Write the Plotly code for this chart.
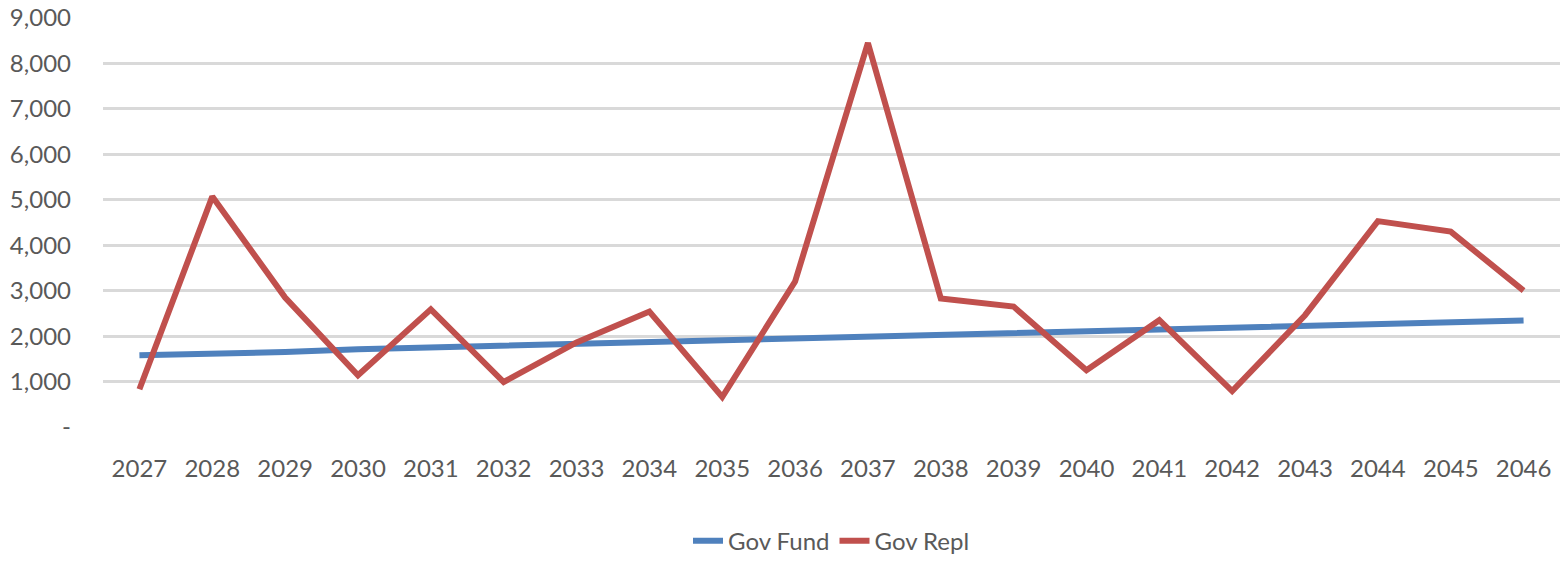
import plotly.graph_objects as go

years = [str(y) for y in range(2027, 2047)]
gov_fund = [1580, 1610, 1650, 1710, 1750, 1790, 1830, 1870, 1900, 1940,
            1980, 2020, 2090, 2130, 2170, 2200, 2240, 2270, 2310, 2345]
gov_repl = [830, 5070, 2850, 1140, 2590, 990, 1860, 2540, 660, 3200,
            8450, 2830, 2650, 1250, 2350, 790, 2460, 4530, 4300, 3000]
y_tickvals = [0, 1000, 2000, 3000, 4000, 5000, 6000, 7000, 8000, 9000]
y_ticktext = ["-", "1,000", "2,000", "3,000", "4,000", "5,000", "6,000", "7,000", "8,000", "9,000"]

FONT = "Lato, Open Sans, sans-serif"
GREY = "#595959"

fig = go.Figure()
fig.add_trace(go.Scatter(x=years, y=gov_fund, mode="lines", name="Gov Fund",
                         line=dict(color="#4f81bd", width=6)))
fig.add_trace(go.Scatter(x=years, y=gov_repl, mode="lines", name="Gov Repl",
                         line=dict(color="#c0504d", width=6)))

fig.update_layout(
    width=1564, height=567,
    margin=dict(l=103, r=4, t=18, b=138),
    plot_bgcolor="white", paper_bgcolor="white",
    font=dict(family=FONT, size=24, color=GREY),
    showlegend=True,
    legend=dict(orientation="h", x=0.5, xanchor="center", y=-0.334, yanchor="bottom",
                font=dict(size=24, color=GREY)),
    xaxis=dict(type="category", range=[-0.5, 19.5], showgrid=False, zeroline=False,
               showline=False, ticks="", automargin=False, ticklabelstandoff=25,
               ticklabeloverflow="allow", tickfont=dict(size=24, color=GREY)),
    yaxis=dict(range=[0, 9000], tickvals=y_tickvals, ticktext=y_ticktext,
               showgrid=True, gridcolor="#d9d9d9", gridwidth=3, zeroline=False,
               showline=False, ticks="", automargin=False, ticklabelstandoff=31,
               ticklabeloverflow="allow", tickfont=dict(size=24, color=GREY)),
)
fig.write_html("out.html", config={"displayModeBar": False},
               post_script="document.body.style.margin='0';document.body.style.overflow='hidden';")
